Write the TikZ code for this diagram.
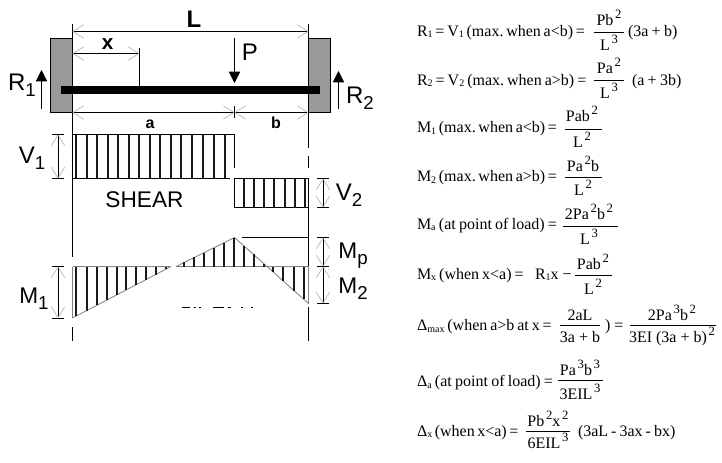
\documentclass[tikz,border=0pt]{standalone}
\usepackage{fontspec}
\setmainfont{Liberation Serif}
\newfontfamily\arialf{Liberation Sans}
\usetikzlibrary{arrows.meta}
\definecolor{wallgray}{HTML}{999999}
\definecolor{tipgray}{HTML}{A8A8A8}
\newcommand{\Sp}[1]{\kern1.3pt\raisebox{5.2pt}{\fontsize{9.5}{10}\selectfont #1}}
\newcommand{\Sb}[1]{\raisebox{-1pt}{\fontsize{7.5}{8}\selectfont #1}}
\newcommand{\Lab}[2]{{#1}\raisebox{-5pt}{\fontsize{14}{14}\selectfont #2}}
% set a line to a given width in px, stretching only its word spaces
\newcommand{\Fit}[2]{\hbox to #1pt{\frenchspacing\spaceskip=0pt plus 1fil\relax #2}}
\newcommand{\FracAt}[9]{%
  \node[ftxt,anchor=base] (#1n) at (#2,#3) {#8};
  \draw[fracrule] (#5,#4) -- (#6,#4);
  \node[ftxt,anchor=base] (#1d) at (#2,#7) {#9};
}
\tikzset{
  ftxt/.style={inner sep=0pt,outer sep=0pt,font=\fontsize{12}{14}\selectfont},
  fleft/.style={ftxt,anchor=base west},
  fracrule/.style={line width=0.6pt},
  dimtip/.style={{Straight Barb[length=8pt,width=10pt,color=tipgray,line width=0.4pt]}-{Straight Barb[length=8pt,width=10pt,color=tipgray,line width=0.4pt]}},
  dimline/.style={line width=0.55pt,black,dimtip},
  refline/.style={line width=0.7pt,black},
  forcearrow/.style={line width=0.7pt,-{Triangle[length=8.5pt,width=8.5pt]}},
  hatchline/.style={line width=1.5pt,black!90},
  greyline/.style={line width=0.6pt,black!50},
  biglab/.style={inner sep=0pt,outer sep=0pt,anchor=base,font=\arialf\fontsize{18}{18}\selectfont},
  mlab/.style={inner sep=0pt,outer sep=0pt,anchor=base,font=\arialf\fontsize{17}{17}\selectfont},
  midlab/.style={inner sep=0pt,outer sep=0pt,anchor=base,font=\arialf\bfseries\fontsize{12}{12}\selectfont},
  shearlab/.style={inner sep=0pt,outer sep=0pt,anchor=base,font=\arialf\fontsize{17}{17}\selectfont}
}
\begin{document}
\begin{tikzpicture}[x=0.75pt,y=-0.75pt]
\useasboundingbox[fill=white] (0,0) rectangle (722,462);
% walls
\draw[fill=wallgray,line width=0.5pt] (50.5,38) rectangle (72.5,112);
\draw[fill=wallgray,line width=0.5pt] (308.5,38) rectangle (330.5,112);
% beam
\fill[black] (61,86) rectangle (320,94);
% reference verticals
\draw[refline] (72.5,24) -- (72.5,257);
\draw[refline] (72.5,327) -- (72.5,341);
\draw[refline] (308.5,24) -- (308.5,148);
\draw[refline] (308.5,156) -- (308.5,168);
\draw[refline] (308.5,178) -- (308.5,267);
\draw[refline] (308.5,307) -- (308.5,341);
% dimensions on beam
\draw[dimline] (72.5,31.5) -- (308.5,31.5);
\draw[dimline] (72.5,53.5) -- (139.5,53.5);
\draw[refline] (139.5,48) -- (139.5,86);
\draw[dimline] (72.5,112.5) -- (234.5,112.5);
\draw[dimline] (234.5,112.5) -- (308.5,112.5);
\draw[refline] (234.5,106) -- (234.5,118);
% forces
\draw[forcearrow] (234.5,38) -- (234.5,83);
\draw[forcearrow] (41.5,108.5) -- (41.5,70);
\draw[forcearrow] (338.5,108.5) -- (338.5,71);
% labels
\node[biglab,font=\arialf\bfseries\fontsize{18}{18}\selectfont] (labL) at (194,27) {L};
\node[midlab,font=\arialf\bfseries\fontsize{15.5}{15.5}\selectfont] (labx) at (107.5,49) {x};
\node[biglab] (labP) at (250,60) {P};
\node[biglab] (labR1) at (22,90) {\Lab{R}{1}};
\node[biglab] (labR2) at (360,103) {\Lab{R}{2}};
\node[midlab] (laba) at (150,128) {a};
\node[midlab] (labb) at (276,128) {b};
% shear diagram
\draw[line width=0.9pt] (72.5,134.5) -- (234.5,134.5) -- (234.5,168);
\draw[line width=0.9pt] (72.5,178.5) -- (230,178.5);
\foreach \x in {76,86.5,97,107.5,118,128.5,139,149.5,160,170.5,181,192,203,214,225}
  \draw[hatchline] (\x,134.5) -- (\x,178);
\draw[line width=0.9pt] (234.5,178.5) rectangle (308.5,207.5);
\foreach \x in {244,254,264,274,285,295,305}
  \draw[hatchline] (\x,178.5) -- (\x,207.5);
\draw[refline] (52,134.5) -- (64,134.5);
\draw[refline] (52,178.5) -- (64,178.5);
\draw[dimline] (58,134.5) -- (58,178.5);
\draw[refline] (317,178.5) -- (329,178.5);
\draw[refline] (317,207.5) -- (329,207.5);
\draw[dimline] (323,178.5) -- (323,207.5);
\node[biglab] (labV1) at (32,163) {\Lab{V}{1}};
\node[biglab] (labV2) at (349,200) {\Lab{V}{2}};
\node[shearlab] (labS) at (144.5,207) {SHEAR};
% moment diagram
\draw[greyline] (72.5,266.5) -- (171,266.5);
\draw[greyline] (176,266.5) -- (308.5,266.5);
\draw[greyline] (72.5,318) -- (171,266.5);
\draw[greyline] (176,266.5) -- (234.5,237.5) -- (308.5,303.5);
\draw[greyline] (308.5,267) -- (308.5,303.5);
\draw[greyline] (72.5,267) -- (72.5,318);
\foreach \x in {76,86.7,96.7,107.3,116.7,126,135.7,145.7,155.7,165.7}{
  \pgfmathsetmacro{\yy}{318-(\x-72.5)*51.5/98.5}
  \draw[hatchline] (\x,266.5) -- (\x,\yy);
}
\foreach \x in {184.3,194.3,204,214,224,234.3}{
  \pgfmathsetmacro{\yy}{266.5-(\x-176)*29/58.5}
  \draw[hatchline] (\x,266.5) -- (\x,\yy);
}
\foreach \x in {244,253.5,264,273.3,283,294,304}{
  \pgfmathsetmacro{\yy}{237.5+(\x-234.5)*66/74}
  \draw[hatchline] (\x,266.5) -- (\x,\yy);
}
\draw[refline] (242,237.5) -- (308.5,237.5);
\draw[refline] (317,237.5) -- (329,237.5);
\draw[refline] (317,266.5) -- (329,266.5);
\draw[refline] (317,303.5) -- (329,303.5);
\draw[dimline] (323,237.5) -- (323,266.5);
\draw[dimline] (323,266.5) -- (323,303.5);
\draw[refline] (52,266.5) -- (64,266.5);
\draw[refline] (52,318) -- (64,318);
\draw[dimline] (58,266.5) -- (58,318);
\node[mlab] (labM1) at (34,303) {\Lab{M}{1}};
\node[mlab] (labMp) at (353,258) {\Lab{M}{p}};
\node[mlab] (labM2) at (353,293) {\Lab{M}{2}};
% fragments of a lost label
\foreach \a/\b in {182/190,194/196,199/201,213/224,228/231,241/243,251/253}
  \draw[line width=0.7pt] (\a,307) -- (\b,307);
% formulas
\node[fleft] (f1) at (417,36) {\Fit{126}{R\Sb{1} = V\Sb{1} (max. when a<b) =}};
\FracAt{fa}{609}{25}{32.7}{594}{624}{50.7}{Pb\Sp{2}}{L\Sp{3}}
\node[fleft] (f1b) at (628,36) {\Fit{37}{(3a + b)}};
\node[fleft] (f2) at (417,85) {\Fit{127}{R\Sb{2} = V\Sb{2} (max. when a>b) =}};
\FracAt{fb}{609}{73}{80}{594}{624}{98}{Pa\Sp{2}}{L\Sp{3}}
\node[fleft] (f2b) at (632,85) {\Fit{37}{(a + 3b)}};
\node[fleft] (f3) at (417,132.7) {\Fit{105}{M\Sb{1} (max. when a<b) =}};
\FracAt{fc}{582}{121.7}{129}{565}{602}{147}{Pab\Sp{2}}{L\Sp{2}}
\node[fleft] (f4) at (417,181.7) {\Fit{105}{M\Sb{2} (max. when a>b) =}};
\FracAt{fd}{583}{171.7}{177.3}{565}{602}{195.7}{Pa\Sp{2}b}{L\Sp{2}}
\node[fleft] (f5) at (417,229.3) {\Fit{105}{M\Sb{a} (at point of load) =}};
\FracAt{fe}{589}{219}{226}{563}{618}{244}{2Pa\Sp{2}b\Sp{2}}{L\Sp{3}}
\node[fleft] (f6) at (417,279.3) {\Fit{80}{M\Sb{x} (when x<a) =}};
\node[fleft] (f6b) at (535,279.3) {R\Sb{1}x −};
\FracAt{ff}{593}{269.3}{275.7}{575}{612}{294}{Pab\Sp{2}}{L\Sp{2}}
\node[fleft] (f7) at (417,330.7) {\Fit{101}{Δ\Sb{max} (when a>b at x =}};
\FracAt{fg}{580}{320.7}{325}{560}{600}{342.7}{2aL}{3a + b}
\node[fleft] (f7b) at (605,330.7) {) =};
\FracAt{fh}{672}{320.7}{325}{630}{716}{342.7}{2Pa\Sp{3}b\Sp{2}}{3EI (3a + b)\Sp{2}}
\node[fleft] (f8) at (417,386.7) {\Fit{102}{Δ\Sb{a} (at point of load) =}};
\FracAt{fi}{580}{375}{380}{558}{603}{399}{Pa\Sp{3}b\Sp{3}}{3EIL\Sp{3}}
\node[fleft] (f9) at (417,436) {\Fit{76}{Δ\Sb{x} (when x<a) =}};
\FracAt{fj}{548}{426}{431.7}{526}{570}{448}{Pb\Sp{2}x\Sp{2}}{6EIL\Sp{3}}
\node[fleft] (f9b) at (578,436) {\Fit{73}{(3aL - 3ax - bx)}};
\end{tikzpicture}
\end{document}
